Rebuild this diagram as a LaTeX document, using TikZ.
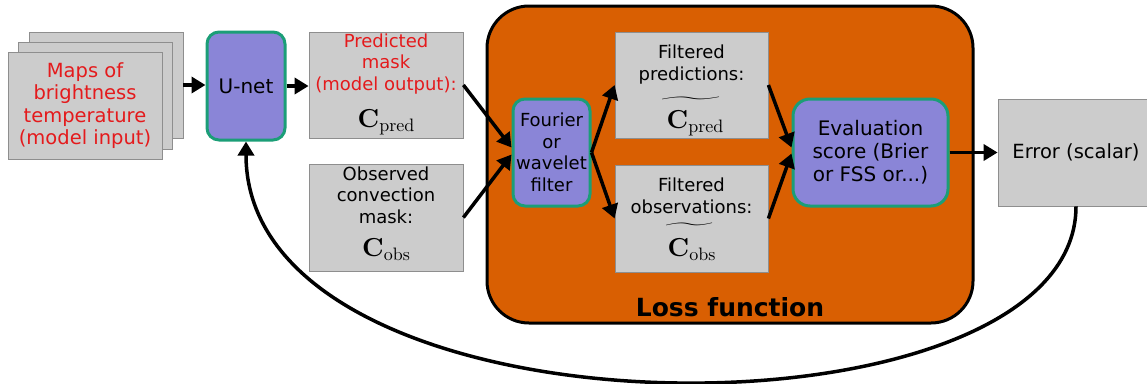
\documentclass[tikz,border=0pt]{standalone}
\usepackage{graphicx}
\usepackage[no-math]{fontspec}
\setmainfont{DejaVu Sans}
\newfontfamily\lmr{lmroman10}[Extension=.otf, UprightFont=*-regular, BoldFont=*-bold]
\usetikzlibrary{arrows.meta}
\definecolor{boxgray}{HTML}{CCCCCC}
\definecolor{boxedge}{HTML}{8E8E8E}
\definecolor{lav}{HTML}{8A85D7}
\definecolor{tealb}{HTML}{1B9E77}
\definecolor{lossor}{HTML}{D95F02}
\definecolor{redtxt}{HTML}{E41A1C}
\newcommand{\bigC}[1]{{\lmr\fontsize{26}{28}\selectfont\textbf{C}\raisebox{-4pt}{\fontsize{18}{19}\selectfont #1}}}
\newcommand{\tilmark}[1]{\scalebox{#1}[2.2]{$\widetilde{\hphantom{\mathbf{C}_{\mathrm{pr}}}}$}}
\begin{document}
\begin{tikzpicture}[x=1pt,y=-1pt,
  graybox/.style={draw=boxedge, line width=0.8pt, fill=boxgray, inner sep=0pt, align=center},
  procbox/.style={draw=tealb, line width=3pt, fill=lav, rounded corners=12pt, inner sep=0pt, align=center},
  arr/.style={line width=3.5pt, -{Triangle[length=14pt,width=16pt]}},
  txtA/.style={font=\fontsize{18}{21.5}\selectfont},
  txtB/.style={font=\fontsize{19.5}{22.5}\selectfont},
  mathlbl/.style={inner sep=0pt, anchor=base},
  linelbl/.style={txtA, align=center, inner sep=0pt, anchor=base}]
\useasboundingbox (0,0) rectangle (1147,383);

% stacked maps
\node[graybox, minimum width=154pt, minimum height=106pt] (back) at (106,85) {};
\node[graybox, minimum width=154pt, minimum height=107pt] (mid) at (95,95.5) {};
\node[graybox, minimum width=154pt, minimum height=107pt, txtB] (front) at (85,105.5)
  {\textcolor{redtxt}{Maps of}\\\textcolor{redtxt}{brightness}\\\textcolor{redtxt}{temperature}\\\textcolor{redtxt}{(model input)}};

% U-net
\node[procbox, minimum width=78pt, minimum height=108pt, font=\fontsize{20}{24}\selectfont] (unet) at (246,86) {U-net};

% predicted mask
\node[graybox, minimum width=154pt, minimum height=106pt] (pred) at (386,85) {};
\node[linelbl] (predt) at (386,90) {\textcolor{redtxt}{Predicted}\\\textcolor{redtxt}{mask}\\\textcolor{redtxt}{(model output):}};
\node[mathlbl] (predm) at (386,127) {\bigC{pred}};

% observed mask
\node[graybox, minimum width=154pt, minimum height=107pt] (obs) at (386,217.5) {};
\node[linelbl] (obst) at (386,223) {Observed\\convection\\mask:};
\node[mathlbl] (obsm) at (386,256) {\bigC{obs}};

% loss function container
\node[draw=black, line width=3pt, fill=lossor, rounded corners=42pt, minimum width=486pt, minimum height=317pt, inner sep=0pt] (loss) at (730,164.5) {};
\node[font=\bfseries\fontsize{25}{28}\selectfont] (losslbl) at (730,307.5) {Loss function};

% Fourier filter
\node[procbox, minimum width=77pt, minimum height=107pt, txtA] (four) at (551.5,152.5) {Fourier\\or\\wavelet\\filter};

% filtered boxes
\node[graybox, minimum width=153pt, minimum height=106pt] (fpred) at (691.5,85) {};
\node[linelbl] (fpredt) at (691.5,80) {Filtered\\predictions:};
\node[mathlbl] (fpredm) at (695,128) {\bigC{pred}};
\node[inner sep=0pt, anchor=north, font=\fontsize{10}{12}\selectfont] (fpredtil) at (691,97) {\tilmark{3.96}};

\node[graybox, minimum width=153pt, minimum height=107pt] (fobs) at (691.5,218.5) {};
\node[linelbl] (fobst) at (691.5,213) {Filtered\\observations:};
\node[mathlbl] (fobsm) at (691.5,256) {\bigC{obs}};
\node[inner sep=0pt, anchor=north, font=\fontsize{10}{12}\selectfont] (fobstil) at (689.5,223) {\tilmark{3.2}};

% evaluation
\node[procbox, rounded corners=17pt, minimum width=155pt, minimum height=107pt, font=\fontsize{20}{23}\selectfont] (eval) at (870.5,152.5) {Evaluation\\score (Brier\\or FSS or...)};

% error
\node[graybox, minimum width=156pt, minimum height=107pt, font=\fontsize{19.5}{23}\selectfont] (err) at (1076,152.5) {Error (scalar)};

% connectors
\draw[arr] (back.east) -- (back.east -| unet.west);
\draw[arr] (unet.east) -- (unet.east -| pred.west);
\draw[arr] (pred.east) -- ([yshift=5pt]four.west);
\draw[arr] (obs.east) -- ([yshift=-2pt]four.west);
\draw[arr] (four.east) -- (fpred.west);
\draw[arr] (four.east) -- (fobs.west);
\draw[arr] (fpred.east) -- ([yshift=5pt]eval.west);
\draw[arr] (fobs.east) -- ([yshift=-1pt]eval.west);
\draw[arr] (eval.east) -- (err.west);
\draw[arr] (err.south) .. controls (1076,450) and (246,450) .. (unet.south);
\end{tikzpicture}
\end{document}
